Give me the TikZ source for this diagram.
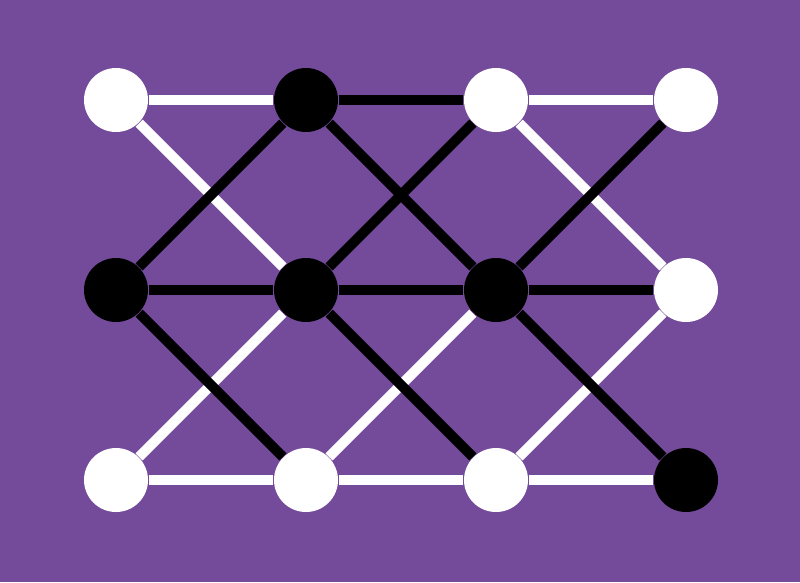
\documentclass[tikz,border=0pt]{standalone}
\definecolor{sfondo}{RGB}{116,74,155}
\tikzset{
  bianco/.style={circle,fill=white,inner sep=0pt,minimum size=0.64cm},
  nero/.style={circle,fill=black,inner sep=0pt,minimum size=0.64cm},
  lbianca/.style={white,line width=0.1cm},
  lnera/.style={black,line width=0.1cm}
}
\begin{document}
\begin{tikzpicture}
    %sfondo
    \fill[sfondo](0,0) rectangle (8,5.82);
    \useasboundingbox (0,0) rectangle (8,5.82);
    %nodi: riga alta
    \node[bianco] (a1) at (1.16,4.82) {};
    \node[nero]   (a2) at (3.06,4.82) {};
    \node[bianco] (a3) at (4.96,4.82) {};
    \node[bianco] (a4) at (6.86,4.82) {};
    %riga centrale
    \node[nero]   (b1) at (1.16,2.92) {};
    \node[nero]   (b2) at (3.06,2.92) {};
    \node[nero]   (b3) at (4.96,2.92) {};
    \node[bianco] (b4) at (6.86,2.92) {};
    %riga bassa
    \node[bianco] (c1) at (1.16,1.02) {};
    \node[bianco] (c2) at (3.06,1.02) {};
    \node[bianco] (c3) at (4.96,1.02) {};
    \node[nero]   (c4) at (6.86,1.02) {};
    %lati bianchi
    \draw[lbianca](a1)--(a2) (a3)--(a4);
    \draw[lbianca](c1)--(c2)--(c3)--(c4);
    \draw[lbianca](a1)--(b2) (c1)--(b2);
    \draw[lbianca](c2)--(b3) (a3)--(b4) (c3)--(b4);
    %lati neri (sopra quelli bianchi)
    \draw[lnera](a2)--(a3);
    \draw[lnera](b1)--(b2)--(b3)--(b4);
    \draw[lnera](b1)--(a2) (b1)--(c2);
    \draw[lnera](a2)--(b3) (b2)--(a3) (b2)--(c3);
    \draw[lnera](b3)--(a4) (b3)--(c4);
\end{tikzpicture}
\end{document}
